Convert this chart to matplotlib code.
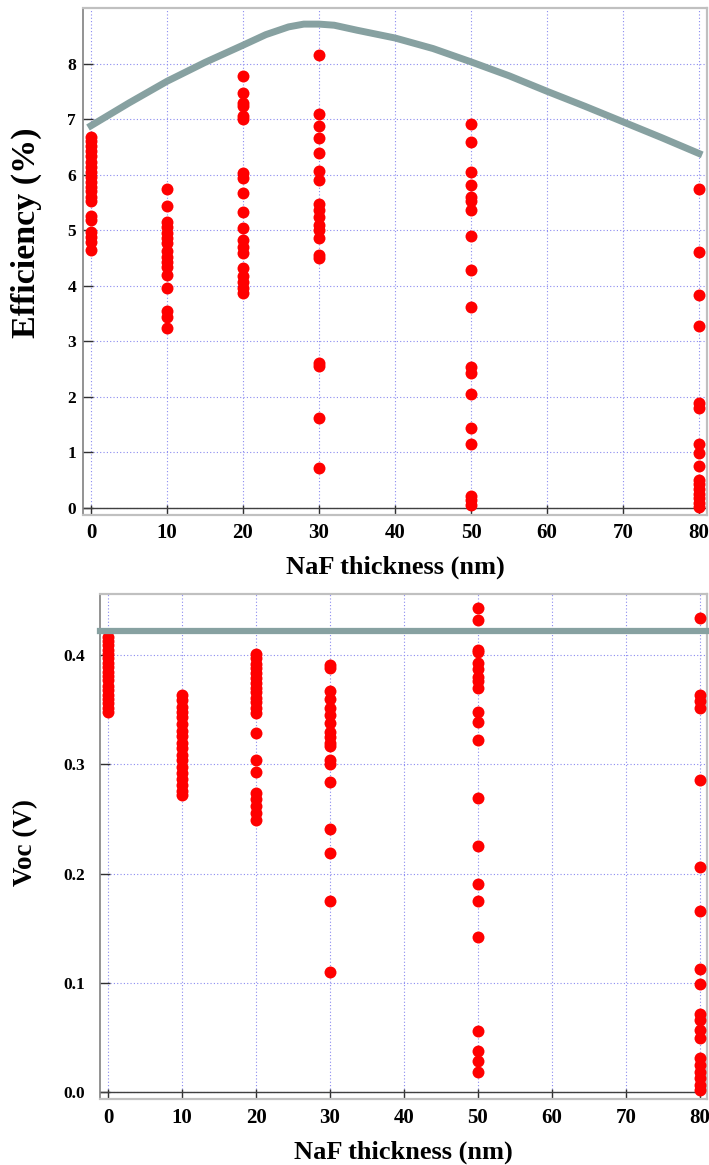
import matplotlib.pyplot as plt

plt.rcParams['font.family'] = ['Liberation Serif', 'DejaVu Serif']
plt.rcParams['font.weight'] = 'bold'
plt.rcParams['axes.labelweight'] = 'bold'

# NaF thickness groups (nm)
thickness = [0, 10, 20, 30, 50, 80]

# efficiency (%) of every cell, per thickness
eff_0 = [6.67, 6.6, 6.52, 6.43, 6.33, 6.22, 6.13, 6.05, 5.95, 5.86, 5.78, 5.7,
         5.6, 5.52, 5.25, 5.18, 4.96, 4.88, 4.78, 4.65]
eff_10 = [5.74, 5.43, 5.15, 5.06, 4.95, 4.85, 4.76, 4.63, 4.52, 4.42, 4.33,
          4.2, 3.96, 3.54, 3.43, 3.24]
eff_20 = [7.77, 7.47, 7.29, 7.23, 7.05, 7.0, 6.02, 5.94, 5.67, 5.32, 5.03,
          4.82, 4.7, 4.58, 4.31, 4.18, 4.06, 3.95, 3.87]
eff_30 = [8.16, 7.1, 6.88, 6.66, 6.39, 6.06, 5.91, 5.47, 5.36, 5.24, 5.09,
          5.0, 4.85, 4.55, 4.49, 2.6, 2.55, 1.62, 0.71]
eff_50 = [6.91, 6.58, 6.04, 5.81, 5.6, 5.52, 5.36, 4.9, 4.28, 3.62, 2.53,
          2.42, 2.04, 1.43, 1.14, 0.21, 0.14, 0.05]
eff_80 = [5.74, 4.61, 3.83, 3.27, 1.88, 1.79, 1.14, 0.98, 0.76, 0.5, 0.42,
          0.33, 0.25, 0.17, 0.08, 0.02]
eff_points = [eff_0, eff_10, eff_20, eff_30, eff_50, eff_80]

# simulated efficiency curve
curve_x = [0, 5, 10, 15, 20, 23, 26, 28, 30, 32, 35, 40, 45, 50, 55, 60, 65,
           70, 75, 80]
curve_y = [6.88, 7.29, 7.68, 8.02, 8.33, 8.52, 8.66, 8.71, 8.71, 8.69, 8.6,
           8.46, 8.27, 8.03, 7.78, 7.5, 7.23, 6.95, 6.67, 6.38]

# open circuit voltage (V) of every cell, per thickness
voc_0 = [0.417, 0.413, 0.409, 0.405, 0.401, 0.397, 0.393, 0.389, 0.385,
         0.381, 0.377, 0.372, 0.368, 0.364, 0.36, 0.356, 0.352, 0.348]
voc_10 = [0.364, 0.359, 0.353, 0.348, 0.343, 0.337, 0.331, 0.326, 0.32,
          0.315, 0.309, 0.304, 0.298, 0.292, 0.287, 0.281, 0.276, 0.272]
voc_20 = [0.401, 0.397, 0.392, 0.388, 0.384, 0.379, 0.375, 0.37, 0.366,
          0.361, 0.357, 0.352, 0.347, 0.329, 0.304, 0.293, 0.274, 0.268,
          0.262, 0.256, 0.249]
voc_30 = [0.391, 0.388, 0.367, 0.36, 0.352, 0.345, 0.338, 0.33, 0.325, 0.32,
          0.317, 0.304, 0.3, 0.284, 0.241, 0.219, 0.175, 0.11]
voc_50 = [0.443, 0.432, 0.405, 0.403, 0.393, 0.387, 0.38, 0.376, 0.37, 0.348,
          0.339, 0.322, 0.269, 0.225, 0.191, 0.175, 0.142, 0.056, 0.038,
          0.029, 0.019]
voc_80 = [0.434, 0.364, 0.358, 0.352, 0.286, 0.206, 0.166, 0.113, 0.099,
          0.072, 0.066, 0.057, 0.05, 0.031, 0.025, 0.019, 0.013, 0.007, 0.002]
voc_points = [voc_0, voc_10, voc_20, voc_30, voc_50, voc_80]

# reference Voc level
voc_ref = 0.4225

x_ticks = [0, 10, 20, 30, 40, 50, 60, 70, 80]
eff_ticks = [0, 1, 2, 3, 4, 5, 6, 7, 8]
voc_ticks = [0.0, 0.1, 0.2, 0.3, 0.4]

dot_color = '#ff0000'
line_color = '#87a1a1'
grid_color = '#8a8af0'


def style_axis(ax, yticks, ylabels, ypad):
    ax.set_xticks(x_ticks)
    ax.set_xticklabels([str(t) for t in x_ticks])
    ax.set_yticks(yticks)
    ax.set_yticklabels(ylabels)
    ax.tick_params(axis='both', direction='in', length=7, width=1,
                   color='#303030')
    ax.tick_params(axis='x', labelsize=15, pad=6)
    ax.tick_params(axis='y', labelsize=12.5, pad=ypad)
    ax.grid(True, color=grid_color, linestyle=(0, (1, 2)), linewidth=0.8)
    ax.set_axisbelow(True)
    for side in ['top', 'right', 'bottom']:
        ax.spines[side].set_color('#c0c0c0')
        ax.spines[side].set_linewidth(1.6)
    ax.spines['left'].set_color('#808080')
    ax.spines['left'].set_linewidth(1.2)
    ax.axhline(0, color='#404040', linewidth=1.0, zorder=2)
    ax.set_xlabel('NaF thickness (nm)', fontsize=19, fontweight='bold',
                  labelpad=9)


fig = plt.figure(figsize=(7.09, 11.65), dpi=100)

# efficiency panel
ax1 = fig.add_axes([0.11707, 0.55794, 0.88011, 0.43519])
for t, vals in zip(thickness, eff_points):
    ax1.plot([t] * len(vals), vals, 'o', color=dot_color, markersize=8.6,
             markeredgewidth=0, zorder=3)
ax1.plot(curve_x, curve_y, color=line_color, linewidth=5, zorder=4,
         solid_joinstyle='round', clip_on=False)
ax1.set_xlim(-1.05, 81.05)
ax1.set_ylim(-0.13, 9.0)
style_axis(ax1, eff_ticks, [str(t) for t in eff_ticks], 5)
fig.text(26 / 709, 1 - 232.5 / 1165, 'Efficiency (%)', rotation=90,
         ha='center', va='center', fontsize=24.5, fontweight='bold')

# Voc panel
ax2 = fig.add_axes([0.14104, 0.05639, 0.85614, 0.43373])
for t, vals in zip(thickness, voc_points):
    ax2.plot([t] * len(vals), vals, 'o', color=dot_color, markersize=8.6,
             markeredgewidth=0, zorder=3)
ax2.axhline(voc_ref, xmin=0, xmax=1, color=line_color, linewidth=4.5,
            zorder=4, clip_on=False)
ax2.set_xlim(-1.12, 81.0)
ax2.set_ylim(-0.0064, 0.456)
style_axis(ax2, voc_ticks, ['%.1f' % t for t in voc_ticks], 11)
fig.text(26 / 709, 1 - 842.5 / 1165, 'Voc (V)', rotation=90,
         ha='center', va='center', fontsize=19.5, fontweight='bold')

fig.savefig('out.png', dpi=100)
